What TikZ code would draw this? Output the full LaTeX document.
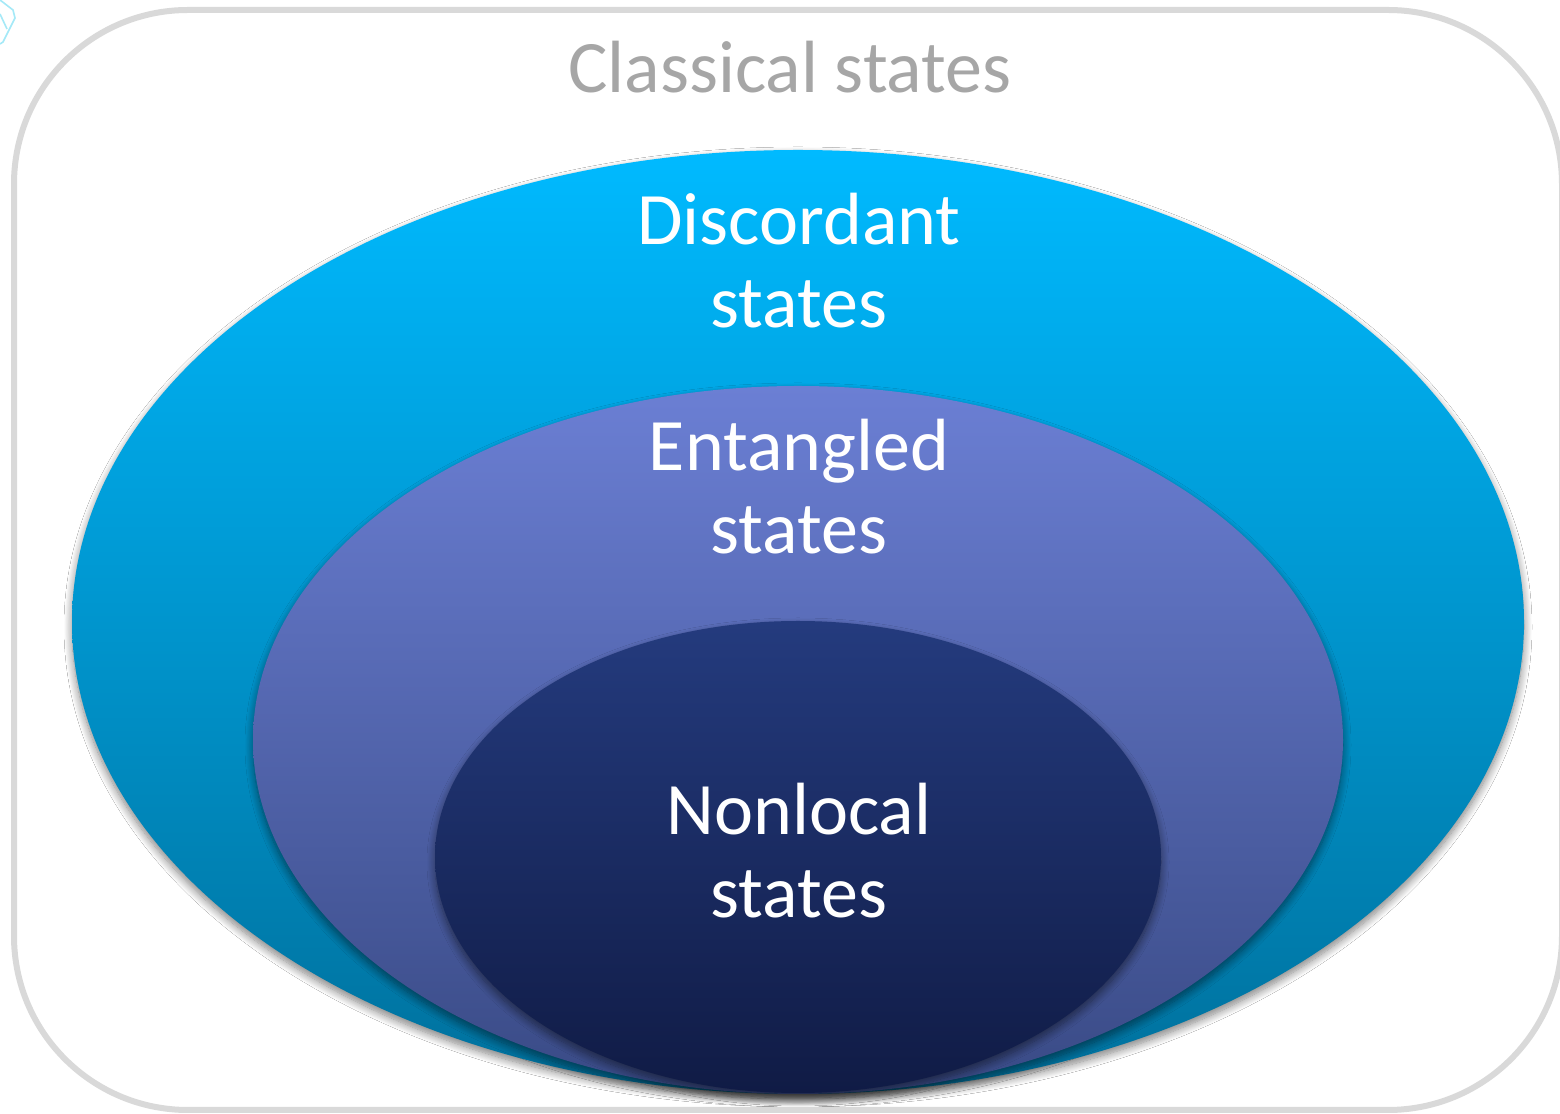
\documentclass[tikz,border=0pt]{standalone}
\usepackage{fontspec}
\setmainfont{Carlito}
\usetikzlibrary{shadows.blur}
\definecolor{frame}{HTML}{D9D9D9}
\definecolor{classgray}{HTML}{A6A6A6}
\definecolor{oTop}{HTML}{00BAFF}
\definecolor{oMid}{HTML}{00A0E0}
\definecolor{oBot}{HTML}{00709C}
\definecolor{mTop}{HTML}{6B7FD4}
\definecolor{mMid}{HTML}{5570BD}
\definecolor{mBot}{HTML}{394A85}
\definecolor{iTop}{HTML}{243B7E}
\definecolor{iMid}{HTML}{1B2D66}
\definecolor{iBot}{HTML}{101B45}
\definecolor{iconcyan}{HTML}{7FE0F5}
\tikzset{
  setshadow/.style={blur shadow={shadow xshift=0pt, shadow yshift=-2.5pt, shadow blur radius=4pt, shadow blur steps=12, shadow opacity=50}},
  lbl/.style={text=white, font=\fontsize{37}{41.5}\selectfont, align=center, anchor=base, inner sep=0pt},
}
\begin{document}
\begin{tikzpicture}[x=0.5pt, y=0.5pt]
\useasboundingbox (0,0) rectangle (1560,1114);
\fill[white] (0,0) rectangle (1560,1114);
% small icon fragment at top-left
\draw[iconcyan, line width=0.8pt, opacity=0.7] (0,1114) -- (13,1104) -- (15,1096) -- (3,1072) -- (0,1070);
\draw[iconcyan, line width=0.8pt, opacity=0.7] (0,1100) -- (7,1085);
% frame
\draw[frame, line width=3pt, rounded corners=87pt] (14,1104) rectangle (1562,4);
\node[text=classgray, font=\fontsize{37}{41}\selectfont, anchor=base, inner sep=0pt] (classical) at (790,1021) {Classical states};
% ellipses
\path[setshadow, top color=oTop, middle color=oMid, bottom color=oBot] (798,492) ellipse [x radius=726, y radius=472];
\path[setshadow, top color=mTop, middle color=mMid, bottom color=mBot] (798,374) ellipse [x radius=545, y radius=354];
\path[setshadow, top color=iTop, middle color=iMid, bottom color=iBot] (798,257) ellipse [x radius=363, y radius=236];
% labels (base = baseline of last line)
\node[lbl] (disc) at (799,786) {Discordant\\states};
\node[lbl] (ent) at (799,560) {Entangled\\states};
\node[lbl] (nonl) at (799,196) {Nonlocal\\states};
\end{tikzpicture}
\end{document}
